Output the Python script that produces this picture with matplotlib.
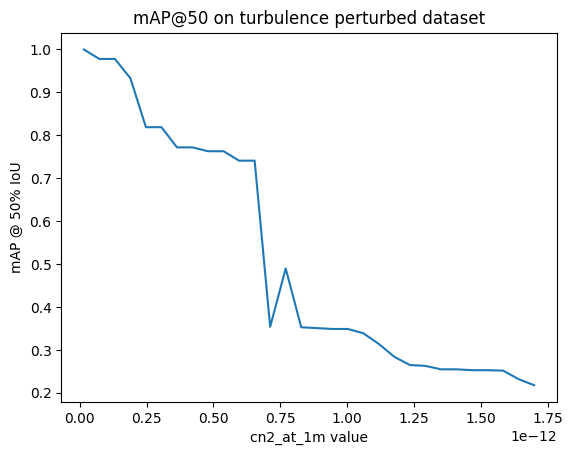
import matplotlib
matplotlib.use("Agg")
import matplotlib.pyplot as plt

cn2_values = [
    0.015e-12, 0.0731e-12, 0.1312e-12, 0.1893e-12, 0.2474e-12, 0.3055e-12,
    0.3636e-12, 0.4217e-12, 0.4798e-12, 0.5379e-12, 0.5960e-12, 0.6541e-12,
    0.7122e-12, 0.7703e-12, 0.8284e-12, 0.8866e-12, 0.9447e-12, 1.0028e-12,
    1.0609e-12, 1.1190e-12, 1.1771e-12, 1.2352e-12, 1.2933e-12, 1.3514e-12,
    1.4095e-12, 1.4676e-12, 1.5257e-12, 1.5838e-12, 1.6419e-12, 1.7000e-12,
]
map50 = [
    1.000, 0.978, 0.978, 0.933, 0.819, 0.819,
    0.772, 0.772, 0.763, 0.763, 0.741, 0.741,
    0.354, 0.490, 0.353, 0.351, 0.349, 0.349,
    0.339, 0.314, 0.284, 0.265, 0.263, 0.255,
    0.255, 0.253, 0.253, 0.252, 0.232, 0.218,
]

fig = plt.figure(figsize=(5.73, 4.55), dpi=100)
ax = fig.add_axes([61.3 / 573, (455 - 402) / 455, 495.4 / 573, 369.3 / 455])
ax.plot(cn2_values, map50)
ax.set_title("mAP@50 on turbulence perturbed dataset")
ax.set_xlabel("cn2_at_1m value")
ax.set_ylabel("mAP @ 50% IoU")
fig.savefig("out.png", dpi=100)
